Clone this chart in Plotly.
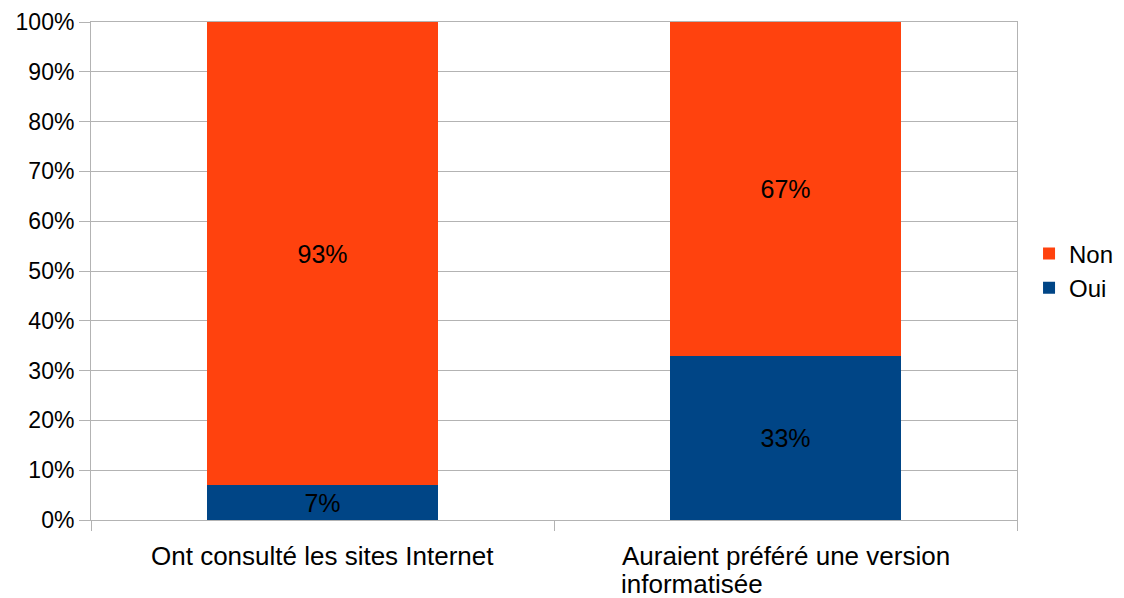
import plotly.graph_objects as go

categories = ["Ont consulté les sites Internet", "Auraient préféré une version informatisée"]
# each category label split in the lines shown under the bars
label_lines = [["Ont consulté les sites Internet"], ["Auraient préféré une version", "informatisée"]]
oui = [0.07, 0.33]
non = [0.93, 0.67]

blue = "#004586"
orange = "#ff420e"
grid = "#b3b3b3"
font = "Liberation Sans, Arial, sans-serif"

fig = go.Figure()
fig.add_trace(go.Bar(
    x=categories, y=oui, name="Oui", marker=dict(color=blue, line=dict(width=0)),
    text=[f"{v:.0%}" for v in oui], textposition="inside", insidetextanchor="middle",
    textfont=dict(size=25, color="black", family=font), hoverinfo="skip",
))
fig.add_trace(go.Bar(
    x=categories, y=non, name="Non", marker=dict(color=orange, line=dict(width=0)),
    text=[f"{v:.0%}" for v in non], textposition="inside", insidetextanchor="middle",
    textfont=dict(size=25, color="black", family=font), hoverinfo="skip",
))

# category labels as annotations: first line centred, following lines
# left aligned with it, with a tighter line spacing than plotly's default
for c, lines in zip(categories, label_lines):
    fig.add_annotation(
        x=c, y=0, xref="x", yref="paper", yanchor="top", yshift=-19,
        text=lines[0], showarrow=False,
        font=dict(size=26, color="black", family=font),
    )
    for i, line in enumerate(lines[1:], start=1):
        fig.add_annotation(
            x=c, y=0, xref="x", yref="paper", yanchor="top", xanchor="left",
            yshift=-19 - 28 * i, xshift=-167,
            text=line, showarrow=False,
            font=dict(size=26, color="black", family=font),
        )

# page body has an 8px margin, so the figure is shifted by 8px
fig.update_layout(
    barmode="stack",
    bargap=0.5,
    width=1116, height=590,
    margin=dict(l=83, r=107, t=14, b=78, autoexpand=False),
    paper_bgcolor="white", plot_bgcolor="white",
    font=dict(family=font, size=23, color="black"),
    legend=dict(x=1.013, xanchor="left", y=0.5, yanchor="middle",
                font=dict(size=24), itemwidth=30, traceorder="reversed"),
)
fig.update_xaxes(
    showticklabels=False, ticks="outside", tickson="boundaries", ticklen=10,
    tickcolor=grid, showline=True, linecolor=grid, linewidth=1, mirror=True,
    showgrid=False, automargin=False,
)
fig.update_yaxes(
    range=[0, 1], dtick=0.1, tickformat=".0%", ticks="outside", ticklen=11,
    tickcolor=grid, showgrid=True, gridcolor=grid, gridwidth=1,
    showline=True, linecolor=grid, linewidth=1, mirror=True,
    zeroline=False, tickfont=dict(size=23), automargin=False,
)

fig.write_html("out.html")
